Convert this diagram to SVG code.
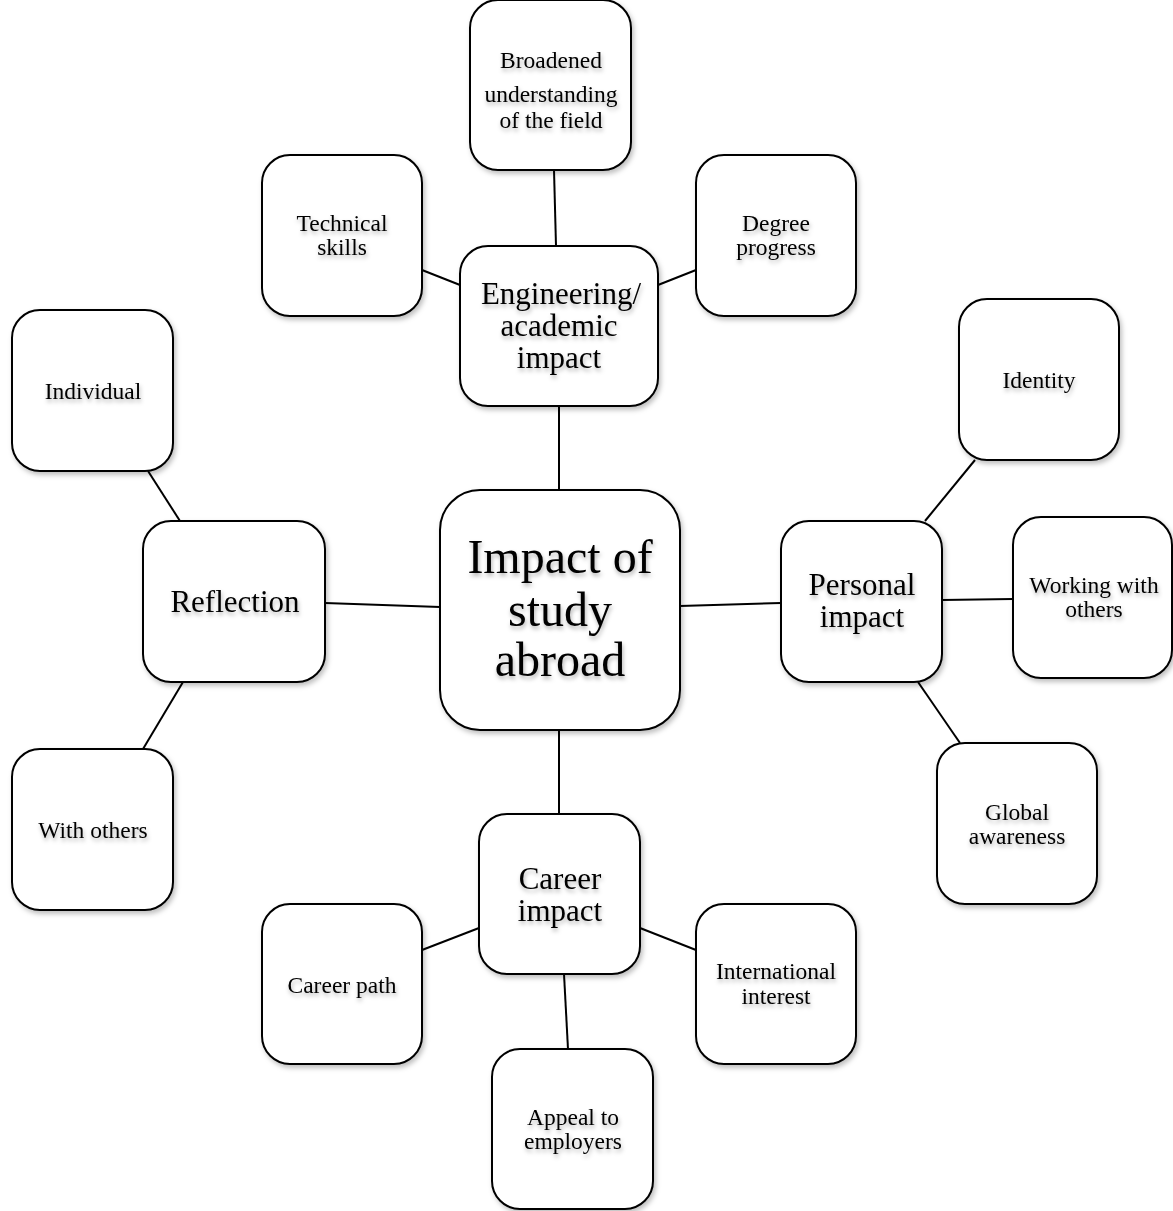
<svg xmlns="http://www.w3.org/2000/svg" width="1173" height="1211" viewBox="0 0 1173 1211">
<defs>
<filter id="bs" x="-10%" y="-10%" width="125%" height="125%">
<feDropShadow dx="2" dy="3" stdDeviation="2.5" flood-color="#000" flood-opacity="0.25"/>
</filter>
<filter id="ts" x="-10%" y="-20%" width="125%" height="160%">
<feDropShadow dx="1" dy="3" stdDeviation="2.2" flood-color="#000" flood-opacity="0.3"/>
</filter>
</defs>
<style>
.box{fill:#fff;stroke:#000;stroke-width:2;filter:url(#bs)}
.t{font-family:"Liberation Serif","Times New Roman",serif;fill:#000;text-anchor:middle;filter:url(#ts)}
.s{font-size:23.5px}
.m{font-size:31px}
.l{font-size:48px}
.c line{stroke:#000;stroke-width:2}
</style>
<rect width="1173" height="1211" fill="#fff"/>
<g class="c" id="connectors">
<line x1="559" y1="406" x2="559" y2="490"/>
<line x1="325" y1="603" x2="440" y2="607"/>
<line x1="680" y1="606" x2="781" y2="603"/>
<line x1="559" y1="730" x2="559" y2="814"/>
<line x1="554" y1="170" x2="556" y2="246"/>
<line x1="422" y1="270" x2="460" y2="285"/>
<line x1="658" y1="285" x2="696" y2="270"/>
<line x1="148" y1="471" x2="180" y2="521"/>
<line x1="183" y1="682" x2="143" y2="749"/>
<line x1="975" y1="460" x2="925" y2="521"/>
<line x1="942" y1="600" x2="1013" y2="599"/>
<line x1="918" y1="682" x2="960" y2="743"/>
<line x1="422" y1="950" x2="479" y2="928"/>
<line x1="640" y1="928" x2="696" y2="950"/>
<line x1="564" y1="974" x2="568" y2="1049"/>
</g>
<g id="center">
<rect class="box" x="440" y="490" width="240" height="240" rx="40"/>
<text class="t l" x="560" y="573">Impact of</text>
<text class="t l" x="560" y="626">study</text>
<text class="t l" x="560" y="676">abroad</text>
</g>
<g id="engineering">
<rect class="box" x="460" y="246" width="198" height="160" rx="28"/>
<text class="t m" x="561" y="304">Engineering/</text>
<text class="t m" x="559" y="336">academic</text>
<text class="t m" x="559" y="368">impact</text>
</g>
<g id="broadened">
<rect class="box" x="470" y="0" width="161" height="170" rx="28"/>
<text class="t s" x="551" y="68">Broadened</text>
<text class="t s" x="551" y="102">understanding</text>
<text class="t s" x="551" y="128">of the field</text>
</g>
<g id="technical">
<rect class="box" x="262" y="155" width="160" height="161" rx="28"/>
<text class="t s" x="342" y="231">Technical</text>
<text class="t s" x="342" y="255">skills</text>
</g>
<g id="degree">
<rect class="box" x="696" y="155" width="160" height="161" rx="28"/>
<text class="t s" x="776" y="231">Degree</text>
<text class="t s" x="776" y="255">progress</text>
</g>
<g id="personal">
<rect class="box" x="781" y="521" width="161" height="161" rx="28"/>
<text class="t m" x="862" y="595">Personal</text>
<text class="t m" x="862" y="627">impact</text>
</g>
<g id="identity">
<rect class="box" x="959" y="299" width="160" height="161" rx="28"/>
<text class="t s" x="1039" y="388">Identity</text>
</g>
<g id="working">
<rect class="box" x="1013" y="517" width="159" height="161" rx="28"/>
<text class="t s" x="1094" y="593">Working with</text>
<text class="t s" x="1094" y="617">others</text>
</g>
<g id="global">
<rect class="box" x="937" y="743" width="160" height="161" rx="28"/>
<text class="t s" x="1017" y="820">Global</text>
<text class="t s" x="1017" y="844">awareness</text>
</g>
<g id="reflection">
<rect class="box" x="143" y="521" width="182" height="161" rx="28"/>
<text class="t m" x="235" y="612">Reflection</text>
</g>
<g id="individual">
<rect class="box" x="12" y="310" width="161" height="161" rx="28"/>
<text class="t s" x="93" y="399">Individual</text>
</g>
<g id="withothers">
<rect class="box" x="12" y="749" width="161" height="161" rx="28"/>
<text class="t s" x="93" y="838">With others</text>
</g>
<g id="career">
<rect class="box" x="479" y="814" width="161" height="160" rx="28"/>
<text class="t m" x="560" y="889">Career</text>
<text class="t m" x="560" y="921">impact</text>
</g>
<g id="careerpath">
<rect class="box" x="262" y="904" width="160" height="160" rx="28"/>
<text class="t s" x="342" y="993">Career path</text>
</g>
<g id="international">
<rect class="box" x="696" y="904" width="160" height="160" rx="28"/>
<text class="t s" x="776" y="979">International</text>
<text class="t s" x="776" y="1004">interest</text>
</g>
<g id="appeal">
<rect class="box" x="492" y="1049" width="161" height="160" rx="28"/>
<text class="t s" x="573" y="1125">Appeal to</text>
<text class="t s" x="573" y="1149">employers</text>
</g>
</svg>
